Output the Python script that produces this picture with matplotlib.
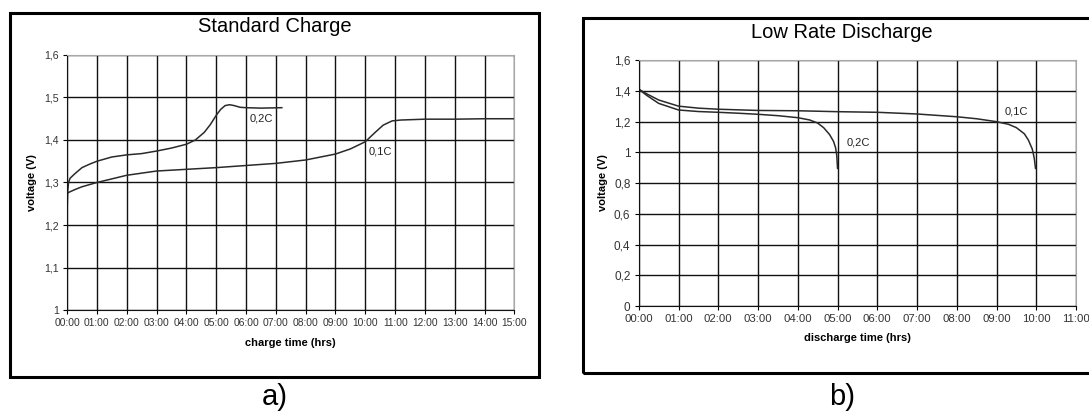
import matplotlib.pyplot as plt
from matplotlib.patches import Rectangle

plt.rcParams['font.family'] = ['Liberation Sans', 'DejaVu Sans']

# %%
# standard charge curves (hours, volts)
charge_t_02 = [0, 0.02, 0.05, 0.1, 0.25, 0.5, 0.75, 1.0, 1.5, 2.0, 2.5, 3.0, 3.5, 4.0,
               4.3, 4.6, 4.8, 5.0, 5.15, 5.3, 5.45, 5.6, 5.8, 6.0, 6.5, 7.2]
charge_v_02 = [1.23, 1.28, 1.30, 1.31, 1.32, 1.335, 1.343, 1.35, 1.36, 1.365, 1.368, 1.374,
               1.381, 1.39, 1.40, 1.418, 1.436, 1.458, 1.472, 1.481, 1.483, 1.481, 1.477,
               1.476, 1.475, 1.476]
charge_t_01 = [0, 0.25, 0.5, 1, 2, 3, 4, 5, 6, 7, 8, 9, 9.5, 10, 10.3, 10.6, 10.9, 11.2,
               12, 13, 14, 15]
charge_v_01 = [1.275, 1.283, 1.29, 1.30, 1.317, 1.327, 1.331, 1.335, 1.34, 1.345, 1.353,
               1.367, 1.379, 1.396, 1.416, 1.435, 1.445, 1.447, 1.449, 1.449, 1.45, 1.45]

# low rate discharge curves
dis_t_02 = [0, 0.2, 0.5, 1, 1.5, 2, 2.5, 3, 3.5, 4, 4.3, 4.5, 4.65, 4.8, 4.9, 4.95, 4.98, 5.0]
dis_v_02 = [1.41, 1.37, 1.318, 1.275, 1.265, 1.26, 1.254, 1.247, 1.238, 1.225, 1.21, 1.19,
            1.16, 1.115, 1.07, 1.03, 0.98, 0.895]
dis_t_01 = [0, 0.2, 0.5, 1, 1.5, 2, 3, 4, 5, 6, 7, 8, 8.5, 9, 9.3, 9.5, 9.7, 9.8, 9.9,
            9.95, 9.98]
dis_v_01 = [1.41, 1.38, 1.34, 1.30, 1.287, 1.28, 1.272, 1.27, 1.264, 1.26, 1.249, 1.231,
            1.218, 1.199, 1.182, 1.16, 1.12, 1.08, 1.02, 0.96, 0.895]

charge_xticks = list(range(0, 16))
charge_yticks = [1.0, 1.1, 1.2, 1.3, 1.4, 1.5, 1.6]
charge_ylabels = ['1', '1,1', '1,2', '1,3', '1,4', '1,5', '1,6']
dis_xticks = list(range(0, 12))
dis_yticks = [0, 0.2, 0.4, 0.6, 0.8, 1.0, 1.2, 1.4, 1.6]
dis_ylabels = ['0', '0,2', '0,4', '0,6', '0,8', '1', '1,2', '1,4', '1,6']


# %%
def style_axes(ax, xticks, yticks, ylabels, fs):
    ax.set_xticks(xticks)
    ax.set_xticklabels(['%02d:00' % h for h in xticks], fontsize=fs, color='#333333')
    ax.set_yticks(yticks)
    ax.set_yticklabels(ylabels, fontsize=fs + 0.3, color='#333333')
    ax.set_xlim(xticks[0], xticks[-1])
    ax.set_ylim(yticks[0], yticks[-1])
    ax.grid(True, color='#111111', lw=1.0)
    ax.set_axisbelow(True)
    for s in ['top', 'right']:
        ax.spines[s].set_color('#a8a8a8')
    for s in ['left', 'bottom']:
        ax.spines[s].set_color('#111111')
    ax.tick_params(direction='out', length=3, width=0.8, pad=3)


fig = plt.figure(figsize=(10.89, 4.16), dpi=100)

# frames around each chart
fig.patches.append(Rectangle((0.0096, 0.0945), 0.4852, 0.8736, transform=fig.transFigure,
                             fill=False, lw=2.2, ec='black'))
fig.patches.append(Rectangle((0.5355, 0.1026), 0.5, 0.8534, transform=fig.transFigure,
                             fill=False, lw=2.2, ec='black', clip_on=False))

ax1 = fig.add_axes([0.0616, 0.2548, 0.4108, 0.613])
ax1.plot(charge_t_02, charge_v_02, color='#2a2a2a', lw=1.1)
ax1.plot(charge_t_01, charge_v_01, color='#2a2a2a', lw=1.1)
style_axes(ax1, charge_xticks, charge_yticks, charge_ylabels, 7.4)
ax1.text(6.12, 1.45, '0,2C', fontsize=8, va='center', color='#222222')
ax1.text(10.1, 1.372, '0,1C', fontsize=8, va='center', color='#222222')
ax1.set_xlabel('charge time (hrs)', fontsize=8, fontweight='bold', labelpad=7)
ax1.set_ylabel('voltage (V)', fontsize=8, fontweight='bold', labelpad=5)
fig.text(0.2522, 0.9375, 'Standard Charge', fontsize=14.5, ha='center', va='center')
fig.text(0.2522, 0.0457, 'a)', fontsize=21, ha='center', va='center')

ax2 = fig.add_axes([0.5866, 0.2644, 0.4015, 0.5913])
ax2.plot(dis_t_02, dis_v_02, color='#2a2a2a', lw=1.1)
ax2.plot(dis_t_01, dis_v_01, color='#2a2a2a', lw=1.1)
style_axes(ax2, dis_xticks, dis_yticks, dis_ylabels, 8.2)
ax2.text(5.23, 1.062, '0,2C', fontsize=8, va='center', color='#222222')
ax2.text(9.2, 1.264, '0,1C', fontsize=8, va='center', color='#222222')
ax2.set_xlabel('discharge time (hrs)', fontsize=8, fontweight='bold', labelpad=6)
ax2.set_ylabel('voltage (V)', fontsize=8, fontweight='bold', labelpad=4)
fig.text(0.7732, 0.923, 'Low Rate Discharge', fontsize=14.5, ha='center', va='center')
fig.text(0.7732, 0.0457, 'b)', fontsize=21, ha='center', va='center')

fig.savefig('out.png', dpi=100)
